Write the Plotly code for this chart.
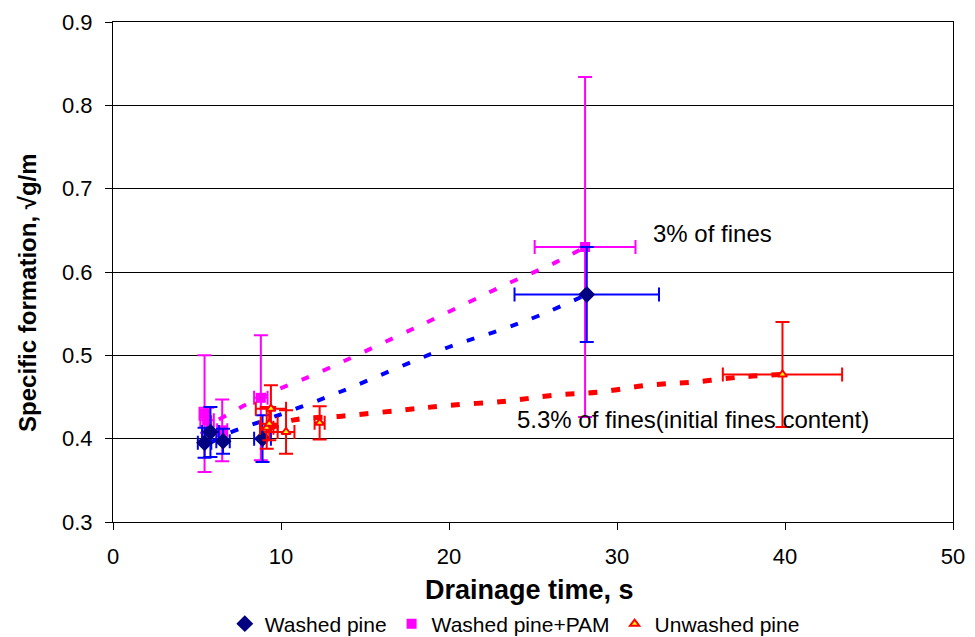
import plotly.graph_objects as go

# ---- data ----
wp_x = [5.45, 5.8, 6.55, 8.9, 28.2]
wp_y = [0.395, 0.408, 0.397, 0.400, 0.573]
wp_yerr = [0.018, 0.030, 0.015, 0.028, 0.057]
wp_xerr = [0.4, 0.5, 0.4, 0.5, 4.3]

pam_x = [5.45, 5.6, 6.5, 8.8, 28.1]
pam_y = [0.430, 0.422, 0.410, 0.449, 0.630]
pam_yerr = [0.070, 0.015, 0.037, 0.075, 0.204]
pam_xerr = [0.3, 0.4, 0.3, 0.4, 3.0]

uw_x = [9.15, 9.3, 9.4, 10.3, 12.3, 39.85]
uw_y = [0.413, 0.418, 0.436, 0.408, 0.419, 0.477]
uw_yerr = [0.025, 0.020, 0.028, 0.026, 0.020, 0.063]
uw_xerr = [0.4, 0.5, 0.9, 0.5, 0.3, 3.55]

# trend (dashed) lines
wp_tx = [5.8, 6.7, 9.0, 10.9, 13.5, 20.0, 23.0, 25.4, 28.2]
wp_ty = [0.395, 0.405, 0.422, 0.436, 0.456, 0.510, 0.530, 0.548, 0.573]
pam_tx = [6.3, 9.0, 12.1, 18.3, 23.6, 26.2, 28.1]
pam_ty = [0.423, 0.452, 0.478, 0.536, 0.587, 0.610, 0.630]
uw_tx = [9.3, 10.8, 13.6, 17.1, 20.0, 23.4, 26.2, 29.0, 31.8, 34.6, 37.4, 39.85]
uw_ty = [0.412, 0.4225, 0.427, 0.434, 0.440, 0.445, 0.452, 0.456, 0.464, 0.468, 0.474, 0.477]

x_ticks = [0, 10, 20, 30, 40, 50]
y_ticks = [0.3, 0.4, 0.5, 0.6, 0.7, 0.8, 0.9]

FONT = "Liberation Sans, Arial, sans-serif"

fig = go.Figure()

# dashed trend lines
fig.add_trace(go.Scatter(x=pam_tx, y=pam_ty, mode="lines",
                         line=dict(color="#FF00FF", width=4, dash="8px,15px", shape="spline"),
                         showlegend=False, hoverinfo="skip"))
fig.add_trace(go.Scatter(x=wp_tx, y=wp_ty, mode="lines",
                         line=dict(color="#0000FF", width=4, dash="8px,15px", shape="spline"),
                         showlegend=False, hoverinfo="skip"))
fig.add_trace(go.Scatter(x=uw_tx, y=uw_ty, mode="lines",
                         line=dict(color="#FF0000", width=5, dash="9px,14px", shape="spline"),
                         showlegend=False, hoverinfo="skip"))

fig.add_trace(go.Scatter(
    x=pam_x, y=pam_y, mode="markers", name="Washed pine+PAM", legendrank=2,
    marker=dict(symbol="square", size=10, color="#FF00FF"),
    error_y=dict(type="data", array=pam_yerr, color="#FF00FF", thickness=2, width=7),
    error_x=dict(type="data", array=pam_xerr, color="#FF00FF", thickness=2, width=7),
))
fig.add_trace(go.Scatter(
    x=wp_x, y=wp_y, mode="markers", name="Washed pine", legendrank=1,
    marker=dict(symbol="diamond", size=13, color="#000080"),
    error_y=dict(type="data", array=wp_yerr, color="#0000FF", thickness=2, width=7),
    error_x=dict(type="data", array=wp_xerr, color="#0000FF", thickness=2, width=7),
))
fig.add_trace(go.Scatter(
    x=uw_x, y=uw_y, mode="markers", name="Unwashed pine", legendrank=3,
    marker=dict(symbol="triangle-up", size=8, color="#FFFF00", line=dict(color="#FF0000", width=2)),
    error_y=dict(type="data", array=uw_yerr, color="#FF0000", thickness=2, width=7),
    error_x=dict(type="data", array=uw_xerr, color="#FF0000", thickness=2, width=7),
))

fig.add_annotation(x=32.0, y=0.6457, text="3% of fines", showarrow=False, xanchor="left", yanchor="middle",
                   font=dict(family=FONT, size=24, color="black"))
fig.add_annotation(x=23.9, y=0.4225, text="5.3% of fines(initial fines content)", showarrow=False,
                   xanchor="left", yanchor="middle", font=dict(family=FONT, size=24, color="black"))

# axis titles
fig.add_annotation(xref="paper", yref="paper", x=0.496, y=-0.135, text="<b>Drainage time, s</b>",
                   showarrow=False, xanchor="center", yanchor="middle",
                   font=dict(family=FONT, size=27, color="black"))
fig.add_annotation(xref="paper", yref="paper", x=-0.1024, y=0.46, text="<b>Specific formation, √g/m</b>",
                   showarrow=False, xanchor="center", yanchor="middle", textangle=-90,
                   font=dict(family=FONT, size=24, color="black"))

fig.update_layout(
    width=975, height=637,
    margin=dict(l=113, r=22, t=22, b=115, autoexpand=False),
    paper_bgcolor="white", plot_bgcolor="white",
    font=dict(family=FONT, size=20, color="black"),
    showlegend=True,
    legend=dict(orientation="h", xref="container", yref="container", x=0.528, xanchor="center",
                y=0.0204, yanchor="middle", font=dict(family=FONT, size=21),
                itemwidth=30, traceorder="normal"),
    xaxis=dict(range=[0, 50], tickvals=x_ticks, ticks="outside", ticklen=7, tickcolor="black",
               showline=True, linecolor="black", linewidth=1, mirror=True, showgrid=False, zeroline=False,
               ticklabelstandoff=8, tickfont=dict(family=FONT, size=22)),
    yaxis=dict(range=[0.3, 0.9], tickvals=y_ticks, tickformat=".1f", ticks="outside", ticklen=7,
               tickcolor="black", showline=True, linecolor="black", linewidth=1, mirror=True,
               showgrid=True, gridcolor="black", gridwidth=1, zeroline=False,
               ticklabelstandoff=8, tickfont=dict(family=FONT, size=22)),
)

fig.write_html("out.html")
